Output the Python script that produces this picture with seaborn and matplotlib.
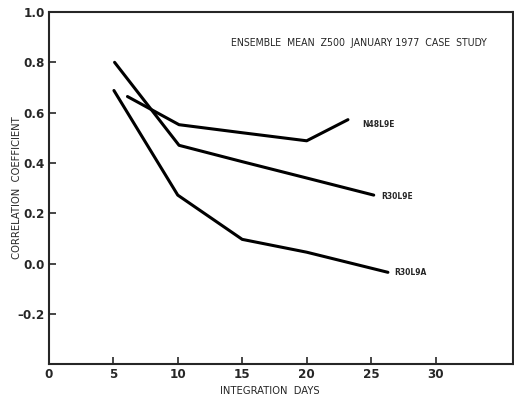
import pandas as pd
import matplotlib.pyplot as plt
import seaborn as sns

# correlation of ensemble mean Z500 vs integration day
r30l9e_days = [5.1, 10.1, 15, 20, 25.2]
r30l9e_corr = [0.80, 0.47, 0.405, 0.34, 0.272]

n48l9e_days = [6.1, 10.1, 15, 20.0, 23.2]
n48l9e_corr = [0.664, 0.552, 0.52, 0.488, 0.572]

r30l9a_days = [5.05, 10.0, 15, 20, 26.3]
r30l9a_corr = [0.688, 0.272, 0.096, 0.045, -0.035]

x_ticks = [0, 5, 10, 15, 20, 25, 30]
y_ticks = [-0.2, 0.0, 0.2, 0.4, 0.6, 0.8, 1.0]

sns.set_style("ticks")
plt.rcParams['font.family'] = ['DejaVu Sans']
plt.rcParams['font.stretch'] = 'condensed'

df = pd.concat([
    pd.DataFrame({"days": r30l9e_days, "corr": r30l9e_corr, "run": "R30L9E"}),
    pd.DataFrame({"days": n48l9e_days, "corr": n48l9e_corr, "run": "N48L9E"}),
    pd.DataFrame({"days": r30l9a_days, "corr": r30l9a_corr, "run": "R30L9A"}),
])

fig = plt.figure(figsize=(5.14, 4.01), dpi=100)
ax = fig.add_axes([0.095, 0.092, 0.903, 0.878])

# label offsets (days, corr) from the end of each curve
offsets = {"R30L9E": (0.6, -0.004), "N48L9E": (1.1, -0.02), "R30L9A": (0.5, 0.0)}

for run, g in df.groupby("run"):
    sns.lineplot(data=g, x="days", y="corr", color="black", linewidth=2.2,
                 ax=ax, sort=False, estimator=None)
    dx, dy = offsets[run]
    ax.text(g["days"].iloc[-1] + dx, g["corr"].iloc[-1] + dy, run,
            fontsize=6, fontweight="bold", va="center", ha="left")

ax.set_xlim(0, 36)
ax.set_ylim(-0.4, 1.0)
ax.set_xticks(x_ticks)
ax.set_yticks(y_ticks)
ax.set_yticklabels([f"{v:.1f}".replace("-", "\u2013") for v in y_ticks])
ax.tick_params(direction="in", length=5, width=1.2, labelsize=9.5, pad=3)
for lab in ax.get_xticklabels() + ax.get_yticklabels():
    lab.set_fontweight("bold")
for s in ax.spines.values():
    s.set_linewidth(1.5)

ax.set_xlabel("INTEGRATION  DAYS", fontsize=8)
ax.xaxis.set_label_coords(0.476, -0.062)
ax.set_ylabel("CORRELATION  COEFFICIENT", fontsize=8)
ax.yaxis.set_label_coords(-0.058, 0.5)
ax.text(0.944, 0.912, "ENSEMBLE  MEAN  Z500  JANUARY 1977  CASE  STUDY",
        transform=ax.transAxes, ha="right", va="center", fontsize=7.6)

fig.savefig("out.png", dpi=100)
